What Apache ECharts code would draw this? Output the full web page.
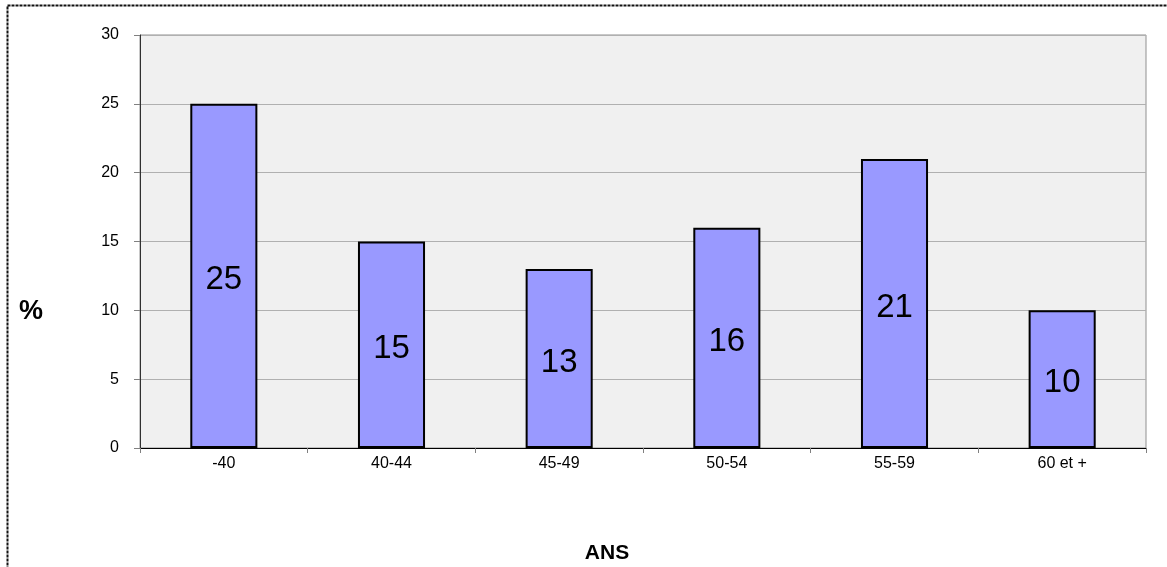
<!DOCTYPE html>
<html>
<head>
<meta charset="utf-8">
<script src="https://cdn.jsdelivr.net/npm/echarts@6/dist/echarts.min.js"></script>
<style>
  html, body { margin: 0; padding: 0; background: #fff; }
  #chart { width: 1167px; height: 567px; }
</style>
</head>
<body>
<div id="chart"></div>
<script>
// données
const categories = ['-40', '40-44', '45-49', '50-54', '55-59', '60 et +']
const values = [25, 15, 13, 16, 21, 10]
const yTicks = { min: 0, max: 30, interval: 5 }

const chart = echarts.init(document.getElementById('chart'))

const option = {
  animation: false,
  textStyle: { fontFamily: 'Liberation Sans, Arial, sans-serif' },
  grid: {
    left: 140,
    top: 35,
    width: 1006,
    height: 413,
    show: true,
    backgroundColor: '#f0f0f0',
    borderColor: '#909090',
    borderWidth: 1
  },
  graphic: [
    {
      type: 'rect',
      shape: { x: 7.5, y: 5.5, width: 1200, height: 600 },
      style: { fill: 'none', stroke: '#111', lineWidth: 2, lineDash: [3, 1] }
    },
    {
      type: 'text',
      x: 31, y: 312,
      style: { text: '%', font: 'bold 27px Liberation Sans, Arial', fill: '#000', align: 'center', verticalAlign: 'middle' }
    },
    {
      type: 'text',
      x: 607, y: 553,
      style: { text: 'ANS', font: 'bold 21px Liberation Sans, Arial', fill: '#000', align: 'center', verticalAlign: 'middle' }
    }
  ],
  xAxis: {
    type: 'category',
    data: categories,
    axisLine: { lineStyle: { color: '#000', width: 1 } },
    axisTick: { show: true, alignWithLabel: false, length: 5, lineStyle: { color: '#808080' } },
    axisLabel: { color: '#000', fontSize: 16, margin: 8 },
    splitLine: { show: false }
  },
  yAxis: {
    type: 'value',
    min: yTicks.min,
    max: yTicks.max,
    interval: yTicks.interval,
    axisLine: { show: true, lineStyle: { color: '#303030' } },
    axisTick: { show: true, length: 6, lineStyle: { color: '#808080' } },
    axisLabel: { color: '#000', fontSize: 16, margin: 21 },
    splitLine: { show: true, lineStyle: { color: '#b0b0b0', width: 1 } }
  },
  series: [{
    type: 'bar',
    data: values,
    barWidth: '40%',
    itemStyle: {
      color: '#9999ff',
      borderColor: '#000',
      borderWidth: 2
    },
    label: {
      show: true,
      position: 'inside',
      offset: [0, 4],
      fontSize: 33,
      color: '#000',
      fontFamily: 'Liberation Sans, Arial, sans-serif'
    }
  }]
}

chart.setOption(option)
window.addEventListener('resize', () => chart.resize())
</script>
</body>
</html>
